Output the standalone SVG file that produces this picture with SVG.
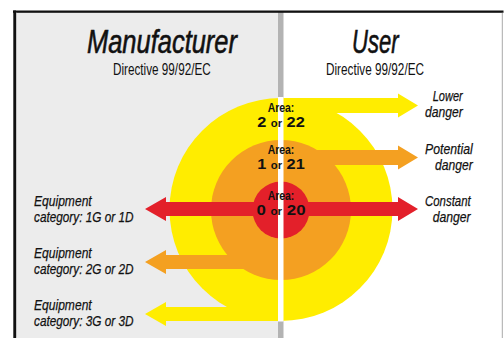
<svg xmlns="http://www.w3.org/2000/svg" width="504" height="338" viewBox="0 0 504 338">
<style>
.lbl{font-family:"Liberation Sans",Arial,sans-serif;font-style:italic;font-size:15.5px;fill:#111;stroke:#111;stroke-width:0.25}
.hdr{font-family:"Liberation Sans",Arial,sans-serif;font-style:italic;font-size:33px;fill:#111;stroke:#111;stroke-width:0.6}
.dir{font-family:"Liberation Sans",Arial,sans-serif;font-size:16px;fill:#111}
.area{font-family:"Liberation Sans",Arial,sans-serif;font-weight:bold;font-size:13px;fill:#111;text-anchor:middle}
.num{font-family:"Liberation Sans",Arial,sans-serif;font-weight:bold;font-size:14.5px;fill:#111;text-anchor:middle}
.or{font-size:10px}
.y{fill:#ffed00}.o{fill:#f4a021}.r{fill:#e3202a}
</style>
<rect x="0" y="0" width="504" height="338" fill="#fff"/>
<g id="frame">
<rect x="15" y="12" width="263" height="326" fill="#ececec"/>
<rect x="278" y="12" width="5.5" height="326" fill="#b3b3b3"/>
<rect x="13" y="10.5" width="490.5" height="2.3" fill="#111"/>
<rect x="13.3" y="10.5" width="2.7" height="327.5" fill="#111"/>
<rect x="16" y="12.8" width="0.8" height="325" fill="#bbb"/>
<rect x="501.8" y="12.8" width="1" height="325.2" fill="#aaa"/>
</g>
<g id="header">
<text class="hdr" x="87" y="53" textLength="150" lengthAdjust="spacingAndGlyphs">Manufacturer</text>
<text class="dir" x="113" y="75" textLength="97.7" lengthAdjust="spacingAndGlyphs">Directive 99/92/EC</text>
<text class="hdr" x="352" y="53" textLength="46.5" lengthAdjust="spacingAndGlyphs">User</text>
<text class="dir" x="326" y="75" textLength="98" lengthAdjust="spacingAndGlyphs">Directive 99/92/EC</text>
</g>
<g id="connectors">
<g id="zone2">
<circle class="y" cx="281" cy="209.5" r="111.5"/>
<path class="y" d="M281 98 H398 V93.5 L418 105.5 L398 117.5 V113 H281 Z"/>
<path class="y" d="M281 307 H166 V302 L145 314 L166 326 V321 H281 Z"/>
</g>
<g id="zone1">
<circle class="o" cx="281" cy="210" r="70"/>
<path class="o" d="M281 150 H398 V145.5 L418 157.5 L398 169.5 V165 H281 Z"/>
<path class="o" d="M281 255 H166 V250 L145 262 L166 274 V269 H281 Z"/>
</g>
<g id="zone0">
<circle class="r" cx="281" cy="210" r="28.5"/>
<path class="r" d="M166 202 H398 V197 L418 209 L398 221 V216 H166 V221 L145 209 L166 197 Z"/>
</g>
<rect x="278" y="97" width="5.5" height="224.5" fill="#fff"/>
</g>
<g id="area2">
<text class="area" x="281" y="111.7" textLength="26.7" lengthAdjust="spacingAndGlyphs">Area:</text>
<text class="num" x="281" y="126.5" textLength="47.5" lengthAdjust="spacingAndGlyphs">2 <tspan class="or">or</tspan> 22</text>
</g>
<g id="area1">
<text class="area" x="281" y="154" textLength="26.7" lengthAdjust="spacingAndGlyphs">Area:</text>
<text class="num" x="281" y="168.5" textLength="47.5" lengthAdjust="spacingAndGlyphs">1 <tspan class="or">or</tspan> 21</text>
</g>
<g id="area0">
<text class="area" x="281" y="200" textLength="26.7" lengthAdjust="spacingAndGlyphs">Area:</text>
<text class="num" x="281" y="214.5" textLength="49" lengthAdjust="spacingAndGlyphs">0 <tspan class="or">or</tspan> 20</text>
</g>
<g id="label-lower">
<text class="lbl" x="432.7" y="101" textLength="30" lengthAdjust="spacingAndGlyphs">Lower</text>
<text class="lbl" x="425" y="117" textLength="37.7" lengthAdjust="spacingAndGlyphs">danger</text>
</g>
<g id="label-potential">
<text class="lbl" x="425" y="153.5" textLength="47.7" lengthAdjust="spacingAndGlyphs">Potential</text>
<text class="lbl" x="435" y="169.5" textLength="37.7" lengthAdjust="spacingAndGlyphs">danger</text>
</g>
<g id="label-constant">
<text class="lbl" x="425" y="205.7" textLength="45.7" lengthAdjust="spacingAndGlyphs">Constant</text>
<text class="lbl" x="432.7" y="221.7" textLength="38" lengthAdjust="spacingAndGlyphs">danger</text>
</g>
<g id="label-cat1">
<text class="lbl" x="34" y="205.7" textLength="57.7" lengthAdjust="spacingAndGlyphs">Equipment</text>
<text class="lbl" x="34" y="221.7" textLength="99.5" lengthAdjust="spacingAndGlyphs">category: 1G or 1D</text>
</g>
<g id="label-cat2">
<text class="lbl" x="34" y="257.7" textLength="57.7" lengthAdjust="spacingAndGlyphs">Equipment</text>
<text class="lbl" x="34" y="273.7" textLength="99.5" lengthAdjust="spacingAndGlyphs">category: 2G or 2D</text>
</g>
<g id="label-cat3">
<text class="lbl" x="34" y="309.7" textLength="57.7" lengthAdjust="spacingAndGlyphs">Equipment</text>
<text class="lbl" x="34" y="325.7" textLength="99.5" lengthAdjust="spacingAndGlyphs">category: 3G or 3D</text>
</g>
</svg>
